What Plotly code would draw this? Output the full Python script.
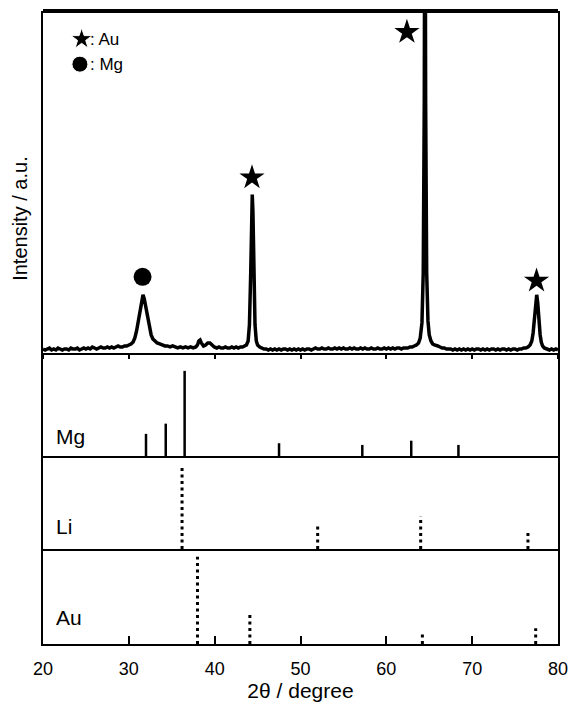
import plotly.graph_objects as go

# ---------------- data ----------------
# measured XRD profile (2theta, intensity in arbitrary units), read from the picture
two_theta = [20.0, 20.25, 20.5, 20.75, 21.0, 21.25, 21.5, 21.75, 22.0, 22.25, 22.5, 22.75,
             23.0, 23.25, 23.5, 23.75, 24.0, 24.25, 24.5, 24.75, 25.0, 25.25, 25.5, 25.75,
             26.0, 26.25, 26.5, 26.75, 27.0, 27.25, 27.5, 27.75, 28.0, 28.25, 28.5, 28.75,
             29.0, 29.25, 29.5, 29.75, 30.0, 30.25, 30.5, 30.7, 30.9, 31.1, 31.3, 31.5,
             31.65, 31.8, 32.0, 32.2, 32.4, 32.6, 32.8, 33.0, 33.3, 33.6, 33.9, 34.2,
             34.5, 34.8, 35.1, 35.4, 35.7, 36.0, 36.3, 36.6, 36.9, 37.2, 37.5, 37.8,
             38.0, 38.15, 38.3, 38.45, 38.7, 38.95, 39.2, 39.45, 39.7, 39.95, 40.25, 40.5,
             40.75, 41.0, 41.25, 41.5, 41.75, 42.0, 42.25, 42.5, 42.75, 43.0, 43.25, 43.5,
             43.7, 43.9, 44.05, 44.2, 44.3, 44.38, 44.46, 44.55, 44.7, 44.85, 45.0, 45.25,
             45.5, 45.75, 46.0, 46.25, 46.5, 46.75, 47.0, 47.25, 47.5, 47.75, 48.0, 48.25,
             48.5, 48.75, 49.0, 49.25, 49.5, 49.75, 50.0, 50.25, 50.5, 50.75, 51.0, 51.25,
             51.5, 51.75, 52.0, 52.25, 52.5, 52.75, 53.0, 53.25, 53.5, 53.75, 54.0, 54.25,
             54.5, 54.75, 55.0, 55.25, 55.5, 55.75, 56.0, 56.25, 56.5, 56.75, 57.0, 57.25,
             57.5, 57.75, 58.0, 58.25, 58.5, 58.75, 59.0, 59.25, 59.5, 59.75, 60.0, 60.25,
             60.5, 60.75, 61.0, 61.25, 61.5, 61.75, 62.0, 62.25, 62.5, 62.75, 63.0, 63.25,
             63.5, 63.75, 63.95, 64.15, 64.3, 64.42, 64.5, 64.58, 64.7, 64.85, 65.0, 65.2,
             65.4, 65.6, 65.8, 66.0, 66.25, 66.5, 66.75, 67.0, 67.25, 67.5, 67.75, 68.0,
             68.25, 68.5, 68.75, 69.0, 69.25, 69.5, 69.75, 70.0, 70.25, 70.5, 70.75, 71.0,
             71.25, 71.5, 71.75, 72.0, 72.25, 72.5, 72.75, 73.0, 73.25, 73.5, 73.75, 74.0,
             74.25, 74.5, 74.75, 75.0, 75.25, 75.5, 75.75, 76.0, 76.25, 76.5, 76.75, 76.95,
             77.1, 77.25, 77.4, 77.52, 77.64, 77.78, 77.92, 78.05, 78.2, 78.4, 78.6, 78.8,
             79.0, 79.25, 79.5, 79.75, 80.0]
intensity = [4, 3, 4, 5, 3, 4, 3, 5, 4, 3, 4, 4,
             3, 5, 4, 4, 5, 3, 4, 5, 4, 5, 4, 6,
             5, 4, 5, 6, 5, 5, 6, 5, 6, 5, 6, 7,
             6, 6, 7, 7, 8, 9, 11, 15, 22, 32, 44, 54,
             58, 54, 44, 33, 24, 18, 14, 12, 10, 9, 8, 7,
             7, 6, 7, 6, 5, 6, 5, 6, 5, 6, 5, 6,
             8, 12, 13, 10, 7, 8, 10, 10, 8, 6, 5, 6,
             5, 5, 6, 5, 5, 6, 5, 6, 5, 6, 6, 7,
             8, 12, 28, 80, 140, 158, 140, 80, 28, 12, 8, 6,
             5, 4, 4, 3, 4, 3, 4, 3, 4, 3, 4, 4,
             3, 4, 3, 4, 3, 4, 3, 4, 3, 4, 4, 3,
             4, 5, 4, 4, 5, 4, 4, 5, 4, 4, 5, 4,
             5, 4, 5, 4, 4, 5, 4, 5, 4, 4, 5, 4,
             5, 4, 4, 5, 4, 4, 5, 4, 4, 5, 4, 5,
             4, 5, 4, 5, 5, 4, 5, 5, 5, 6, 6, 7,
             8, 10, 15, 30, 80, 250, 560, 250, 80, 32, 18, 12,
             9, 8, 7, 7, 6, 5, 5, 4, 4, 4, 3, 4,
             3, 4, 3, 4, 3, 4, 3, 4, 3, 4, 4, 3,
             4, 3, 4, 3, 4, 4, 3, 4, 3, 4, 4, 3,
             4, 3, 4, 4, 3, 4, 4, 5, 5, 6, 8, 12,
             20, 34, 50, 58, 50, 32, 18, 11, 7, 5, 4, 4,
             3, 4, 3, 4, 3]

# phase markers above the measured peaks
mark_x = [31.6, 44.35, 62.4, 77.5]
mark_y = [76, 175, 320, 72]
mark_sym = ["circle", "star", "star", "star"]

# reference patterns (2theta, relative intensity)
mg_pos = [32.0, 34.3, 36.5, 47.5, 57.2, 62.9, 68.4]
mg_int = [26, 38, 100, 15, 13, 18, 13]
li_pos = [36.2, 52.0, 64.0, 76.5]
li_int = [100, 29, 39, 19]
au_pos = [38.0, 44.1, 64.2, 77.4]
au_int = [100, 36, 14, 18]

x_ticks = [20, 30, 40, 50, 60, 70, 80]
panel_names = ["Mg", "Li", "Au"]

# ---------------- figure ----------------
FONT = "Liberation Sans, Arial, Helvetica, sans-serif"


def sticks(pos, val):
    xs, ys = [], []
    for p, v in zip(pos, val):
        xs += [p, p, None]
        ys += [0, v, None]
    return xs, ys


fig = go.Figure()

# top panel: measured pattern
fig.add_trace(go.Scatter(x=two_theta, y=intensity, mode="lines",
                         line=dict(color="black", width=3.5),
                         xaxis="x4", yaxis="y4", showlegend=False, hoverinfo="skip"))
fig.add_trace(go.Scatter(x=mark_x, y=mark_y, mode="markers",
                         marker=dict(symbol=mark_sym, size=[18, 19, 19, 19], color="black",
                                     opacity=1, line=dict(width=0)),
                         xaxis="x4", yaxis="y4", showlegend=False, cliponaxis=False))
# legend symbols
fig.add_trace(go.Scatter(x=[24.5, 24.3], y=[313, 288], mode="markers",
                         marker=dict(symbol=["star", "circle"], size=[16, 16], color="black",
                                     opacity=1),
                         xaxis="x4", yaxis="y4", showlegend=False))

# Mg reference
xs, ys = sticks(mg_pos, mg_int)
fig.add_trace(go.Scatter(x=xs, y=ys, mode="lines", line=dict(color="black", width=2.5),
                         xaxis="x3", yaxis="y3", showlegend=False))
# Li reference
xs, ys = sticks(li_pos, li_int)
fig.add_trace(go.Scatter(x=xs, y=ys, mode="lines",
                         line=dict(color="black", width=3, dash="3px,3.5px"),
                         xaxis="x2", yaxis="y2", showlegend=False))
# Au reference
xs, ys = sticks(au_pos, au_int)
fig.add_trace(go.Scatter(x=xs, y=ys, mode="lines",
                         line=dict(color="black", width=3, dash="3px,3.5px"),
                         xaxis="x", yaxis="y", showlegend=False))

H = 633.0
d_top = (644 - 353) / H
d_mg = (644 - 456) / H
d_li = (644 - 549) / H

xframe = dict(showline=True, linecolor="black", linewidth=2, mirror=False,
              showgrid=False, zeroline=False, automargin=False)
yframe = dict(showline=True, linecolor="black", linewidth=2, mirror=True,
              showgrid=False, zeroline=False, showticklabels=False, ticks="",
              automargin=False)

fig.update_layout(
    width=570, height=705,
    margin=dict(l=43, r=12, t=11, b=61),
    plot_bgcolor="white", paper_bgcolor="white",
    font=dict(family=FONT, color="black", size=16),
    xaxis=dict(domain=[0, 1], range=[20, 80], anchor="y", tickmode="array",
               tickvals=x_ticks, ticktext=[str(t) for t in x_ticks],
               ticks="inside", ticklen=8, tickwidth=2, tickcolor="black",
               tickfont=dict(size=18), ticklabelstandoff=7,
               title=dict(text="2θ / degree", font=dict(size=21), standoff=6),
               **xframe),
    yaxis=dict(domain=[0, d_li], range=[0, 109], **yframe),
    xaxis2=dict(domain=[0, 1], range=[20, 80], anchor="y2", matches="x",
                showticklabels=False, ticks="", **xframe),
    yaxis2=dict(domain=[d_li, d_mg], range=[0, 111], **yframe),
    xaxis3=dict(domain=[0, 1], range=[20, 80], anchor="y3", matches="x",
                showticklabels=False, ticks="", **xframe),
    yaxis3=dict(domain=[d_mg, d_top], range=[0, 121], **yframe),
    xaxis4=dict(domain=[0, 1], range=[20, 80], anchor="y4", matches="x",
                showticklabels=False, ticks="outside", ticklen=4, tickwidth=1.5,
                tickvals=x_ticks, tickcolor="black", **xframe),
    yaxis4=dict(domain=[d_top, 1], range=[0, 341], **yframe),
)

# thick top border
fig.add_shape(type="line", xref="paper", yref="paper", x0=0, x1=1, y0=1, y1=1,
              line=dict(color="black", width=4))

# y axis label
fig.add_annotation(text="Intensity / a.u.", xref="paper", yref="paper",
                   x=-0.045, y=(644 - 218) / H, xanchor="center", yanchor="middle",
                   textangle=-90, showarrow=False, font=dict(size=20))

# legend texts
fig.add_annotation(text=": Au", x=25.2, y=313, xref="x4", yref="y4", xanchor="left",
                   showarrow=False, font=dict(size=17))
fig.add_annotation(text=": Mg", x=25.2, y=288, xref="x4", yref="y4", xanchor="left",
                   showarrow=False, font=dict(size=17))

# panel names
for name, yc in zip(panel_names, [436, 526, 617]):
    fig.add_annotation(text=name, xref="paper", yref="paper", x=(54 - 43) / 515.0,
                       y=(644 - yc) / H, xanchor="left", yanchor="middle",
                       showarrow=False, font=dict(size=21))

fig.write_html("out.html")
